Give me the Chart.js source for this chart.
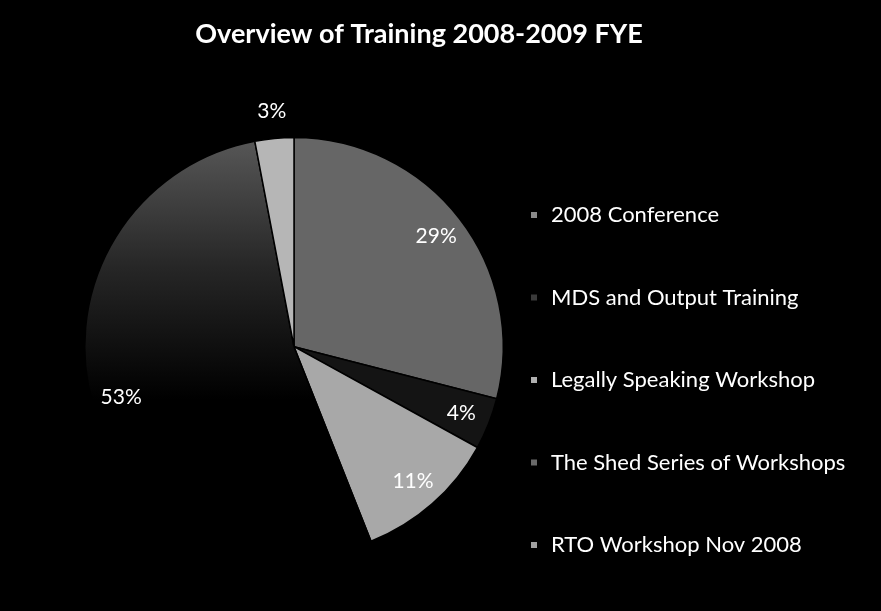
<!DOCTYPE html>
<html>
<head>
<meta charset="utf-8">
<title>Overview of Training 2008-2009 FYE</title>
<script src="https://cdn.jsdelivr.net/npm/chart.js@4.4.1/dist/chart.umd.min.js"></script>
<style>
    html, body { margin: 0; padding: 0; background: #000; }
    #wrap { width: 881px; height: 611px; }
</style>
</head>
<body>
<div id="wrap"><canvas id="chart"></canvas></div>
<script>
const categories = [
    '2008 Conference',
    'MDS and Output Training',
    'Legally Speaking Workshop',
    'The Shed Series of Workshops',
    'RTO Workshop Nov 2008'
];
const shares = [29, 4, 11, 53, 3]; // percent of training

const fontFamily = 'Lato, "Liberation Sans", sans-serif';
const sliceColors = ['#666666', '#141414', '#a8a8a8', 'shade', '#b6b6b6'];
const legendColors = ['#8a8a8a', '#3a3a3a', '#b0b0b0', '#6a6a6a', '#a0a0a0'];

// dark slice fades from grey at the top to black below the centre
function sliceFill(context) {
    const c = sliceColors[context.dataIndex];
    if (c !== 'shade') return c;
    const area = context.chart.chartArea;
    if (!area) return '#333';
    const cy = (area.top + area.bottom) / 2;
    const r = Math.min(area.right - area.left, area.bottom - area.top) / 2;
    const g = context.chart.ctx.createLinearGradient(0, cy - r, 0, cy + r * 0.25);
    g.addColorStop(0, '#585858');
    g.addColorStop(0.5, '#262626');
    g.addColorStop(1, '#000000');
    return g;
}

// percentage labels on the slices ("best fit": small slice goes outside)
const sliceLabels = {
    id: 'sliceLabels',
    afterDatasetsDraw(chart) {
        const ctx = chart.ctx;
        const meta = chart.getDatasetMeta(0);
        ctx.save();
        ctx.font = '21px ' + fontFamily;
        ctx.fillStyle = '#ffffff';
        ctx.textAlign = 'center';
        ctx.textBaseline = 'middle';
        meta.data.forEach((arc, i) => {
            const p = arc.getProps(['x', 'y', 'startAngle', 'endAngle', 'outerRadius'], true);
            const mid = (p.startAngle + p.endAngle) / 2;
            const frac = shares[i] < 3.5 ? 1.13 : 0.86;
            const x = p.x + Math.cos(mid) * p.outerRadius * frac;
            const y = p.y + Math.sin(mid) * p.outerRadius * frac;
            ctx.fillText(shares[i] + '%', x, y);
        });
        ctx.restore();
    }
};

// legend as a layout box on the right, widely spaced like the original
const sideLegend = {
    id: 'sideLegend',
    beforeInit(chart) {
        const box = {
            position: 'right',
            weight: 10,
            fullSize: false,
            options: {},
            left: 0, top: 0, right: 0, bottom: 0, width: 0, height: 0,
            isHorizontal() { return false; },
            update(maxWidth, maxHeight) {
                this.width = 250;
                this.height = maxHeight;
            },
            draw() {
                const ctx = chart.ctx;
                const x0 = this.left + 27;
                const top = 215;
                const step = 82.5;
                ctx.save();
                ctx.font = '22px ' + fontFamily;
                ctx.textAlign = 'left';
                ctx.textBaseline = 'middle';
                chart.data.labels.forEach((label, i) => {
                    const y = top + i * step;
                    ctx.fillStyle = legendColors[i];
                    ctx.fillRect(x0, y - 3, 6, 6);
                    ctx.fillStyle = '#ffffff';
                    ctx.fillText(label, x0 + 20, y);
                });
                ctx.restore();
            }
        };
        Chart.layouts.addBox(chart, box);
    }
};

const chart = new Chart(document.getElementById('chart'), {
    type: 'pie',
    data: {
        labels: categories,
        datasets: [{
            data: shares,
            backgroundColor: sliceFill,
            borderColor: '#000000',
            borderWidth: 1.5
        }]
    },
    options: {
        responsive: true,
        maintainAspectRatio: false,
        animation: false,
        layout: {
            padding: { left: 84, right: 127, top: 10, bottom: 1 }
        },
        plugins: {
            title: {
                display: true,
                text: 'Overview of Training 2008-2009 FYE',
                color: '#ffffff',
                font: { family: fontFamily, size: 27, weight: 'bold' },
                padding: { top: 8, bottom: 33 }
            },
            legend: { display: false },
            tooltip: { enabled: false }
        }
    },
    plugins: [sliceLabels, sideLegend]
});
</script>
</body>
</html>
